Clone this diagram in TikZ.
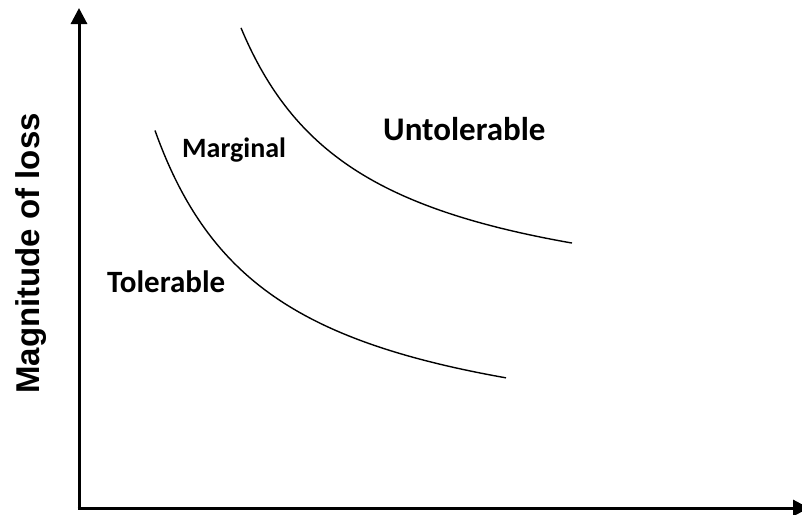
\documentclass[tikz,border=0pt]{standalone}
\usepackage{fontspec}
\setmainfont{Carlito}
\newfontfamily\arialbold{Liberation Sans}
\usetikzlibrary{arrows.meta}
\begin{document}
\begin{tikzpicture}[x=1pt,y=-1pt,
  axis/.style={line width=3pt,-{Triangle[length=16pt,width=16pt]}},
  curve/.style={line width=1.4pt},
  lbl/.style={inner sep=0pt,anchor=base west,font=\bfseries}]
\useasboundingbox (0,0) rectangle (802,514);
\clip (0,0) rectangle (802,514);
\coordinate (O) at (79,508);
\coordinate (ytop) at (79,8);
\coordinate (xend) at (809,508);
\draw[axis] (O) -- (ytop);
\draw[axis] ([xshift=-1.5pt]O) -- (xend);
\draw[curve] plot[domain=241:572,samples=120] (\x,{323-363/((\x-118)/100)});
\draw[curve] plot[domain=155:506,samples=120] (\x,{461-390/((\x-37)/100)});
\node[lbl,font=\fontsize{33}{33}\selectfont\bfseries] (untol) at (383,140) {Untolerable};
\node[lbl,font=\fontsize{28}{28}\selectfont\bfseries] (marg) at (182,157) {Marginal};
\node[lbl,font=\fontsize{31}{31}\selectfont\bfseries] (tol) at (107,292) {Tolerable};
\node[inner sep=0pt,anchor=base,rotate=90,font=\arialbold\fontsize{33}{33}\selectfont\bfseries] (ylab) at (39,253.5) {Magnitude of loss};
\end{tikzpicture}
\end{document}
